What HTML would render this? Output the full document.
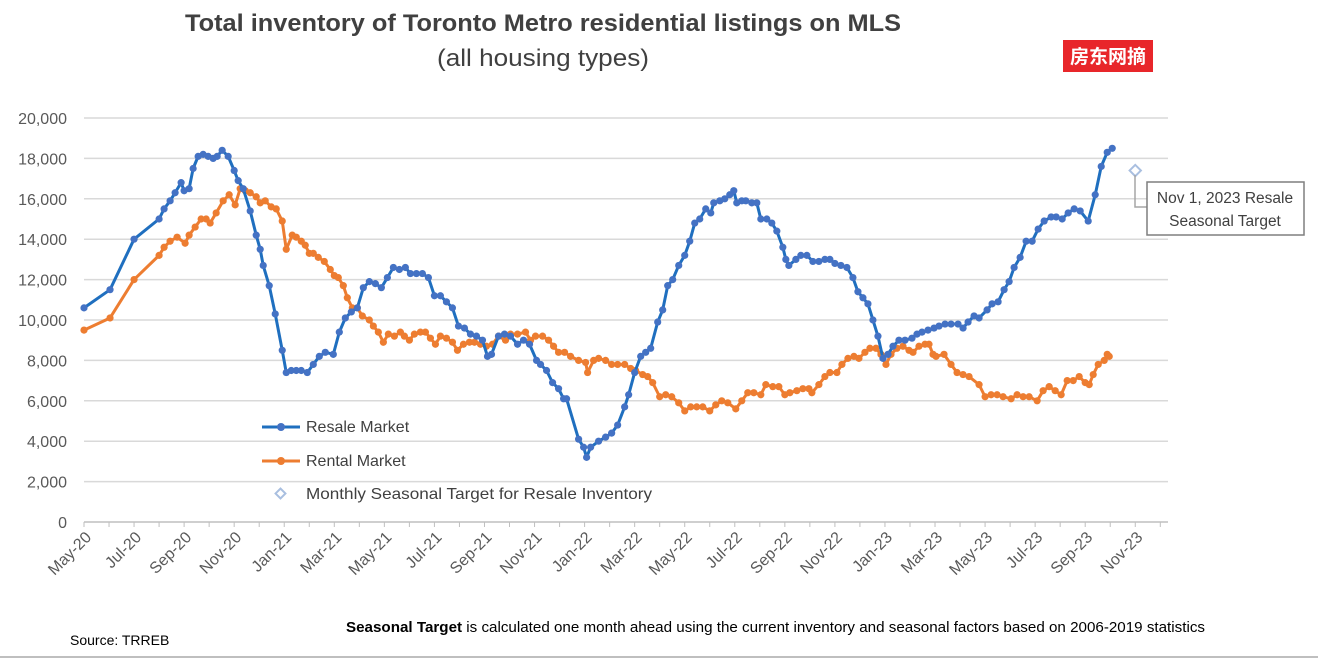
<!DOCTYPE html>
<html><head><meta charset="utf-8"><style>
body{margin:0;background:#fff;font-family:"Liberation Sans","Noto Sans CJK SC",sans-serif;}
svg text{font-family:"Liberation Sans","Noto Sans CJK SC",sans-serif;}
</style></head><body>
<svg id="chart" width="1318" height="658" xmlns="http://www.w3.org/2000/svg">
<rect width="1318" height="658" fill="#fff"/>
<text x="543" y="31" text-anchor="middle" font-size="24" font-weight="bold" fill="#404040" textLength="716" lengthAdjust="spacingAndGlyphs">Total inventory of Toronto Metro residential listings on MLS</text>
<text x="543" y="66" text-anchor="middle" font-size="24" fill="#404040" textLength="212" lengthAdjust="spacingAndGlyphs">(all housing types)</text>
<rect x="1063" y="40" width="90" height="32" fill="#e8262a"/>
<text x="1108" y="63" text-anchor="middle" font-size="19" font-weight="bold" fill="#fff">房东网摘</text>
<g id="grid"></g>
<g id="axes"></g>
<g id="series"></g>
<g>
<line x1="262" y1="427" x2="300" y2="427" stroke="#1f6fbf" stroke-width="3"/><circle cx="281" cy="427" r="4" fill="#4472c4"/>
<text x="306" y="432" font-size="16" fill="#404040">Resale Market</text>
<line x1="262" y1="461" x2="300" y2="461" stroke="#ed7d31" stroke-width="3"/><circle cx="281" cy="461" r="4" fill="#ed7d31"/>
<text x="306" y="466" font-size="16" fill="#404040">Rental Market</text>
<rect x="277" y="490" width="7" height="7" transform="rotate(45 280.5 493.5)" fill="#fff" stroke="#a9bfe0" stroke-width="2"/>
<text x="306" y="499" font-size="16" fill="#404040" textLength="346" lengthAdjust="spacingAndGlyphs">Monthly Seasonal Target for Resale Inventory</text>
</g>
<g>
<polyline points="1135,175 1135,207 1147,207" fill="none" stroke="#a6a6a6" stroke-width="1.5"/>
<rect x="1147" y="182" width="157" height="53" fill="#fff" stroke="#7f7f7f" stroke-width="1.5"/>
<text x="1225" y="203" text-anchor="middle" font-size="15.5" fill="#404040">Nov 1, 2023 Resale</text>
<text x="1225" y="226" text-anchor="middle" font-size="15.5" fill="#404040">Seasonal Target</text>
</g>
<text x="346" y="632" font-size="14.5" fill="#000" textLength="859" lengthAdjust="spacingAndGlyphs"><tspan font-weight="bold">Seasonal Target</tspan> is calculated one month ahead using the current inventory and seasonal factors based on 2006-2019 statistics</text>
<text x="70" y="645" font-size="14" fill="#000">Source: TRREB</text>
<line x1="0" y1="657" x2="1318" y2="657" stroke="#7f7f7f" stroke-width="1"/>
</svg>
<script>
const yTicks=[0,2000,4000,6000,8000,10000,12000,14000,16000,18000,20000];
const xTickLabels=["May-20","Jul-20","Sep-20","Nov-20","Jan-21","Mar-21","May-21","Jul-21","Sep-21","Nov-21","Jan-22","Mar-22","May-22","Jul-22","Sep-22","Nov-22","Jan-23","Mar-23","May-23","Jul-23","Sep-23","Nov-23"];
const resaleMonths=[0,1.04,2.0,3.0,3.2,3.44,3.64,3.88,4.0,4.2,4.36,4.56,4.76,4.96,5.16,5.32,5.52,5.76,6.0,6.16,6.36,6.64,6.88,7.04,7.16,7.4,7.64,7.92,8.08,8.28,8.48,8.68,8.92,9.16,9.4,9.64,9.96,10.2,10.44,10.68,10.92,11.16,11.4,11.64,11.88,12.12,12.36,12.6,12.84,13.04,13.28,13.52,13.76,14.0,14.24,14.48,14.72,14.96,15.2,15.44,15.68,15.92,16.12,16.28,16.56,16.8,17.04,17.32,17.56,17.8,18.08,18.24,18.48,18.72,18.96,19.16,19.28,19.76,19.96,20.08,20.24,20.56,20.84,21.08,21.32,21.6,21.76,22.0,22.24,22.44,22.64,22.92,23.12,23.32,23.52,23.76,24.0,24.2,24.4,24.6,24.84,25.04,25.16,25.4,25.6,25.8,25.96,26.08,26.28,26.44,26.68,26.88,27.04,27.28,27.48,27.68,27.92,28.04,28.16,28.44,28.64,28.88,29.12,29.36,29.6,29.8,30.0,30.24,30.48,30.72,30.92,31.12,31.32,31.52,31.72,31.92,32.12,32.32,32.56,32.8,33.08,33.28,33.48,33.72,33.96,34.16,34.4,34.64,34.92,35.12,35.32,35.56,35.76,36.08,36.28,36.52,36.76,36.96,37.16,37.4,37.64,37.88,38.12,38.36,38.64,38.84,39.08,39.32,39.56,39.8,40.12,40.4,40.64,40.88,41.08];
const resaleValues=[10600,11500,14000,15000,15500,15900,16300,16800,16400,16500,17500,18100,18200,18100,18000,18100,18400,18100,17400,16900,16500,15400,14200,13500,12700,11700,10300,8500,7400,7500,7500,7500,7400,7800,8200,8400,8300,9400,10100,10400,10600,11600,11900,11800,11600,12100,12600,12500,12600,12300,12300,12300,12100,11200,11200,10900,10600,9700,9600,9300,9200,9000,8200,8300,9200,9300,9200,8800,9000,8800,8000,7800,7500,6900,6600,6100,6100,4100,3700,3200,3700,4000,4200,4400,4800,5700,6300,7400,8200,8400,8600,9900,10500,11700,12000,12700,13200,13900,14800,15000,15500,15300,15800,15900,16000,16200,16400,15800,15900,15900,15800,15800,15000,15000,14800,14400,13600,13000,12700,13000,13200,13200,12900,12900,13000,13000,12800,12700,12600,12100,11400,11100,10800,10000,9200,8100,8300,8700,9000,9000,9100,9300,9400,9500,9600,9700,9800,9800,9800,9600,9900,10200,10100,10500,10800,10900,11500,11900,12600,13100,13900,13900,14500,14900,15100,15100,15000,15300,15500,15400,14900,16200,17600,18300,18500];
const rentalMonths=[0,1.04,2.0,3.0,3.2,3.44,3.72,4.04,4.2,4.44,4.68,4.88,5.04,5.28,5.56,5.8,6.04,6.24,6.44,6.64,6.88,7.04,7.24,7.48,7.68,7.92,8.08,8.32,8.48,8.68,8.84,9.0,9.16,9.36,9.6,9.84,10.0,10.16,10.36,10.52,10.72,10.92,11.12,11.4,11.56,11.76,11.96,12.16,12.4,12.64,12.8,13.0,13.2,13.44,13.64,13.84,14.04,14.24,14.48,14.72,14.92,15.16,15.4,15.6,15.84,16.08,16.32,16.56,16.84,17.04,17.32,17.64,17.84,18.04,18.32,18.56,18.76,18.96,19.2,19.44,19.76,20.04,20.12,20.36,20.56,20.84,21.08,21.32,21.6,21.84,22.04,22.32,22.52,22.72,23.0,23.24,23.48,23.76,24.0,24.24,24.48,24.72,25.0,25.24,25.48,25.72,26.04,26.28,26.52,26.76,27.04,27.24,27.52,27.76,28.0,28.2,28.48,28.72,28.96,29.08,29.36,29.6,29.8,30.08,30.28,30.52,30.76,30.96,31.2,31.4,31.64,31.84,32.04,32.24,32.48,32.72,32.96,33.12,33.36,33.6,33.76,33.92,34.04,34.36,34.64,34.88,35.12,35.36,35.76,36.0,36.24,36.48,36.72,37.04,37.28,37.52,37.76,38.08,38.32,38.56,38.8,39.04,39.28,39.52,39.76,40.0,40.16,40.32,40.52,40.76,40.88,40.96];
const rentalValues=[9500,10100,12000,13200,13600,13900,14100,13800,14200,14600,15000,15000,14800,15300,15900,16200,15700,16500,16400,16300,16100,15800,15900,15600,15500,14900,13500,14200,14100,13900,13700,13300,13300,13100,12900,12500,12200,12100,11700,11100,10600,10600,10200,10000,9700,9400,8900,9300,9200,9400,9200,9000,9300,9400,9400,9100,8800,9200,9100,8900,8500,8800,8900,8900,8800,8700,8800,9200,9000,9300,9300,9400,9000,9200,9200,9000,8700,8400,8400,8200,8000,7900,7400,8000,8100,8000,7800,7800,7800,7600,7500,7300,7200,6900,6200,6300,6200,5900,5500,5700,5700,5700,5500,5800,6000,5900,5600,6000,6400,6400,6300,6800,6700,6700,6300,6400,6500,6600,6600,6400,6800,7200,7400,7400,7800,8100,8200,8100,8400,8600,8600,8300,7800,8300,8600,8700,8500,8400,8700,8800,8800,8300,8200,8300,7800,7400,7300,7200,6800,6200,6300,6300,6200,6100,6300,6200,6200,6000,6500,6700,6500,6300,7000,7000,7200,6900,6800,7300,7800,8000,8300,8200];
const targetMonths=[42];
const targetValues=[17400];

const NS="http://www.w3.org/2000/svg";
const X0=84,PXM=25.03,Y0=522,PXV=404/20000,XR=1168;
function xs(m){return X0+m*PXM;}
function ys(v){return Y0-v*PXV;}
function mk(tag,attrs,parent){const e=document.createElementNS(NS,tag);for(const k in attrs)e.setAttribute(k,attrs[k]);parent.appendChild(e);return e;}
const grid=document.getElementById('grid'),axes=document.getElementById('axes'),ser=document.getElementById('series');
yTicks.forEach(v=>{
  if(v>0){const g=mk('line',{x1:X0,x2:XR,y1:ys(v),y2:ys(v),stroke:'#d9d9d9','stroke-width':1.5},grid);
  
  }
  const t=mk('text',{x:67,y:ys(v)+6,'text-anchor':'end','font-size':16,fill:'#595959'},axes);
  t.textContent=v.toLocaleString('en-US');
  
  
});
const ax=mk('line',{x1:X0,x2:XR,y1:Y0,y2:Y0,stroke:'#bfbfbf','stroke-width':1.5},axes);


for(let m=0;m<=43;m++){mk('line',{x1:xs(m),x2:xs(m),y1:Y0,y2:Y0+5,stroke:'#bfbfbf','stroke-width':1},axes);}
xTickLabels.forEach((l,i)=>{
  const x=xs(i*2),y=Y0+12;
  const t=mk('text',{x:x+4,y:y+6,'text-anchor':'end','font-size':16,fill:'#595959',transform:`rotate(-45 ${x+4} ${y})`},axes);
  t.textContent=l;
  
  
});
function drawSeries(ms,vs,lineCol,dotCol,name){
  const p=mk('polyline',{points:ms.map((m,i)=>xs(m)+','+ys(vs[i])).join(' '),fill:'none',stroke:lineCol,'stroke-width':3,'stroke-linejoin':'round'},ser);
  
  
  ms.forEach((m,i)=>{const c=mk('circle',{cx:xs(m),cy:ys(vs[i]),r:3.6,fill:dotCol},ser);
    
    });
}
drawSeries(rentalMonths,rentalValues,'#ed7d31','#ed7d31','rental');
drawSeries(resaleMonths,resaleValues,'#1f6fbf','#4472c4','resale');
targetMonths.forEach((m,i)=>{
  const x=xs(m),y=ys(targetValues[i]);
  const r=mk('rect',{x:x-4,y:y-4,width:8,height:8,transform:`rotate(45 ${x} ${y})`,fill:'#fff',stroke:'#a9bfe0','stroke-width':2},ser);
  
  
});
</script>
</body></html>
